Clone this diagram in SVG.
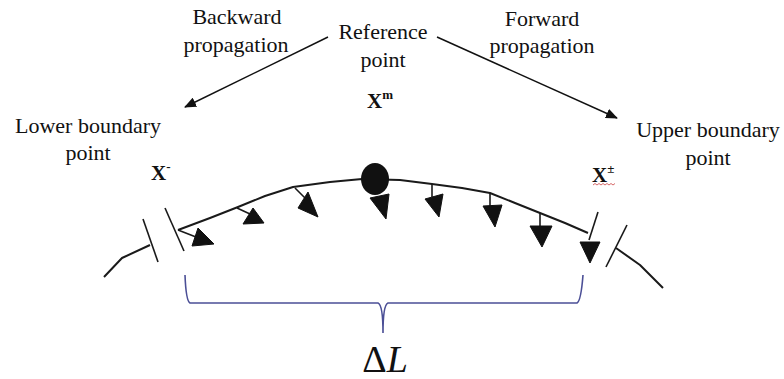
<svg xmlns="http://www.w3.org/2000/svg" width="784" height="379" viewBox="0 0 784 379">
<style>
.t{fill:#111;text-anchor:middle}
.x{fill:#111;font-weight:bold}
.c{fill:none;stroke:#1a1a1a;stroke-width:2;stroke-linejoin:round}
.k{fill:none;stroke:#1a1a1a;stroke-width:1.6}
.h{fill:#111;stroke:#111;stroke-width:1;stroke-linejoin:round}
.a{stroke:#111;stroke-width:1.5;fill:none}
</style>
<defs>
<marker id="ah" viewBox="0 0 12 10" refX="11" refY="5" markerWidth="12" markerHeight="10" markerUnits="userSpaceOnUse" orient="auto">
<path d="M0,0 L12,5 L0,10 Z" fill="#111"/>
</marker>
</defs>
<rect width="784" height="379" fill="#fff"/>

<g id="label-backward">
<text class="t" font-family="Liberation Serif" font-size="22" x="237" y="24">Backward</text>
<text class="t" font-family="Liberation Serif" font-size="22" x="236" y="52">propagation</text>
</g>
<g id="label-reference">
<text class="t" font-family="Liberation Serif" font-size="22" x="383" y="39">Reference</text>
<text class="t" font-family="Liberation Serif" font-size="22" x="383" y="67">point</text>
<text class="x" font-family="Liberation Serif" font-size="21" x="367" y="108">X<tspan font-size="13" dy="-9">m</tspan></text>
</g>
<g id="label-forward">
<text class="t" font-family="Liberation Serif" font-size="22" x="542" y="26">Forward</text>
<text class="t" font-family="Liberation Serif" font-size="22" x="542" y="53">propagation</text>
</g>
<g id="label-lower">
<text class="t" font-family="Liberation Serif" font-size="22" x="88" y="133">Lower boundary</text>
<text class="t" font-family="Liberation Serif" font-size="22" x="88" y="160">point</text>
<text class="x" font-family="Liberation Serif" font-size="21" x="151" y="180">X<tspan font-size="13" dy="-9">-</tspan></text>
</g>
<g id="label-upper">
<text class="t" font-family="Liberation Serif" font-size="22" x="708" y="137">Upper boundary</text>
<text class="t" font-family="Liberation Serif" font-size="22" x="708" y="165">point</text>
<text class="x" font-family="Liberation Serif" font-size="21" x="592" y="182">X<tspan font-size="13" dy="-9">±</tspan></text>
<path d="M593,185 l2,-1.5 l2,1.5 l2,-1.5 l2,1.5 l2,-1.5 l2,1.5 l2,-1.5 l2,1.5 l2,-1.5 l2,1.5 l2,-1.5" fill="none" stroke="#c44" stroke-width="0.8"/>
</g>

<g id="curve">
<polyline class="c" points="104,277 122,258 150,245"/>
<line class="k" x1="143" y1="219" x2="158" y2="262"/>
<line class="k" x1="165" y1="208" x2="184" y2="251"/>
<polyline class="c" points="178,230 210,218 238,207 265,196 293,187 330,182 362,179 400,180 432,184 462,188 490,193 515,203 540,213 565,223 588,233"/>
<line class="k" x1="627" y1="225" x2="606" y2="267"/>
<polyline class="c" points="616,248 640,265 663,288"/>
</g>

<g id="reference-point">
<ellipse cx="375" cy="179" rx="14" ry="16" fill="#111"/>
</g>

<g id="arrows-small">
<line class="k" x1="178" y1="230" x2="196" y2="237"/>
<polygon class="h" points="198,228 192,246 214,244"/>
<line class="k" x1="237" y1="208" x2="250" y2="214"/>
<polygon class="h" points="253,208 243,224 264,223"/>
<line class="k" x1="295" y1="188" x2="305" y2="198"/>
<polygon class="h" points="308,192 298,208 318,217"/>
<polygon class="h" points="370,198 389,194 386,219"/>
<line class="k" x1="432" y1="184" x2="432" y2="197"/>
<polygon class="h" points="425,199 443,194 439,217"/>
<line class="k" x1="490" y1="193" x2="490" y2="206"/>
<polygon class="h" points="483,206 502,205 495,227"/>
<line class="k" x1="540" y1="213" x2="540" y2="226"/>
<polygon class="h" points="530,226 552,226 542,247"/>
<line class="k" x1="598" y1="212" x2="589" y2="240"/>
<polygon class="h" points="580,242 600,242 590,263"/>
</g>

<g id="brace">
<path d="M185,275 Q186,301 190,303 L378,303 Q383,305 383,333 Q383,305 388,303 L577,303 Q581,301 583,275" fill="none" stroke="#4b4f96" stroke-width="1.6"/>
<text class="t" font-family="Liberation Serif" font-size="38" x="385" y="372">Δ<tspan font-style="italic">L</tspan></text>
</g>

<g id="connectors">
<line class="a" x1="328" y1="37" x2="185" y2="107" marker-end="url(#ah)"/>
<line class="a" x1="437" y1="37" x2="617" y2="118" marker-end="url(#ah)"/>
</g>
</svg>
